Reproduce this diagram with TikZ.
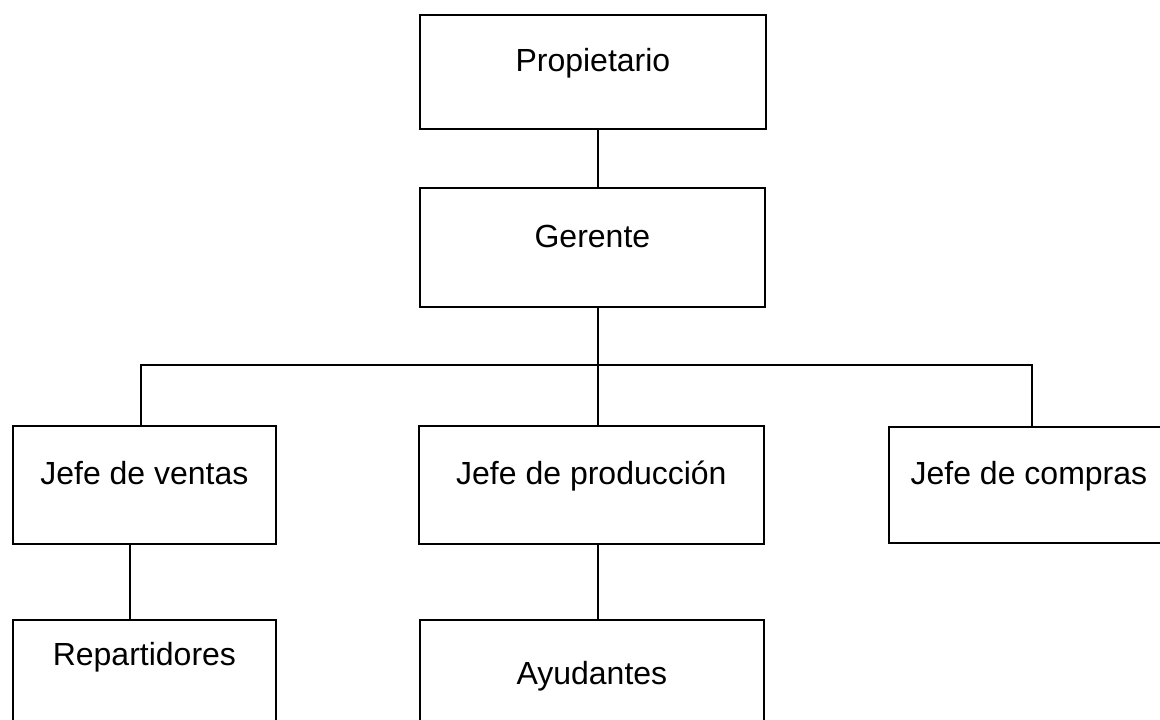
\documentclass[tikz,border=0pt]{standalone}
\usepackage{fontspec}
\setmainfont{Liberation Sans}
\usetikzlibrary{positioning}

\begin{document}
\begin{tikzpicture}[x=0.5pt, y=-0.5pt, line width=0.9pt,
	cuad/.style={draw, inner sep=0pt, anchor=north west, align=center,
		font=\fontsize{16}{19}\selectfont}]
	\useasboundingbox (0,0) rectangle (1160,719);
	\clip (0,0) rectangle (1160,719);
	\node [cuad, minimum width=173pt, text height=28.5pt, text depth=28.5pt] (0) at (419,14) {Propietario};
	\node [cuad, minimum width=172.5pt, text height=29.75pt, text depth=29.75pt] (1) at (419,187) {Gerente};
	\node [cuad, minimum width=131.5pt, text height=29.5pt, text depth=29.5pt] (2) at (12,425) {Jefe de ventas};
	\node [cuad, minimum width=172.5pt, text height=29.5pt, text depth=29.5pt] (3) at (418,425) {Jefe de producción};
	\node [cuad, minimum width=140pt, text height=29pt, text depth=29pt] (4) at (888,426) {Jefe de compras};
	\node [cuad, minimum width=131.5pt, text height=23pt, text depth=60pt] (5) at (12,619) {Repartidores};
	\node [cuad, minimum width=172pt, text height=32.5pt, text depth=60pt] (6) at (419,619) {Ayudantes};
	\coordinate (7) at (598,365);
	\coordinate (8) at (141,365);
	\coordinate (9) at (1032,365);
	\coordinate (10) at (130,0);
	\draw (0.south -| 7)--(1.north -| 7);
	\draw (1.south -| 7)--(3.north -| 7);
	\draw (2.north -| 8) |- (9)--(4.north -| 9);
	\draw (2.south -| 10)--(5.north -| 10);
	\draw (3.south -| 7)--(6.north -| 7);
\end{tikzpicture}
\end{document}
